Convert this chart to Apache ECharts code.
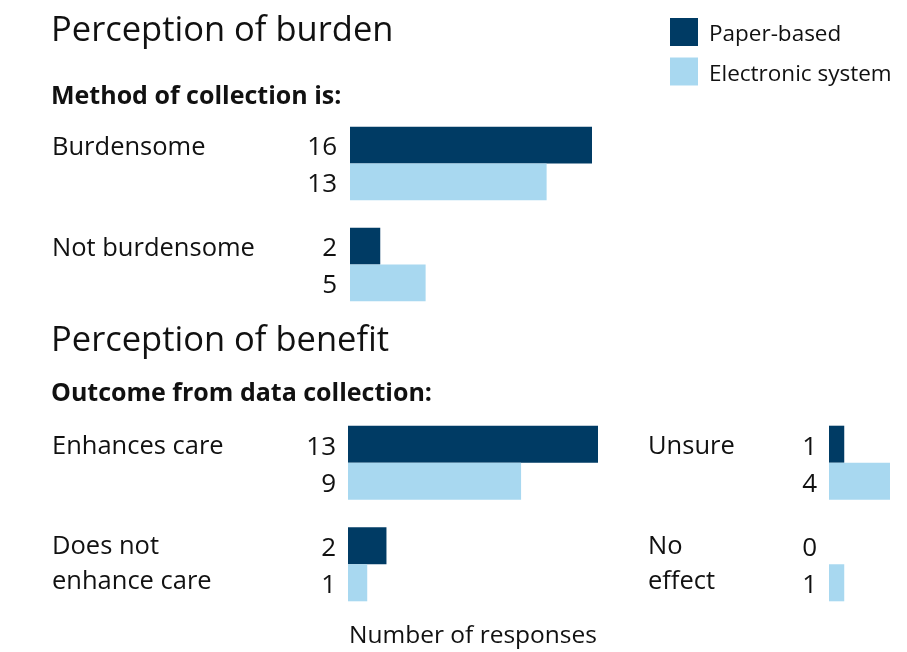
<!DOCTYPE html>
<html><head><meta charset="utf-8">
<script src="https://cdn.jsdelivr.net/npm/echarts@6/dist/echarts.min.js"></script>
<style>html,body{margin:0;padding:0;background:#fff}#c{width:907px;height:652px}</style>
</head><body><div id="c"></div>
<script>
const seriesNames = ['Paper-based', 'Electronic system'];
const burdenCats = ['Burdensome', 'Not burdensome'];
const burdenPaper = [16, 2];
const burdenElectronic = [13, 5];
const benefitCatsA = ['Enhances care', 'Does not\nenhance care'];
const benefitPaperA = [13, 2];
const benefitElectronicA = [9, 1];
const benefitCatsB = ['Unsure', 'No\neffect'];
const benefitPaperB = [1, 0];
const benefitElectronicB = [4, 1];

const FONT = 'Open Sans';
const DARK = '#003b64';
const LIGHT = '#a8d8f0';
const TXT = '#111';
const chart = echarts.init(document.getElementById('c'));

function catAxis(idx, cats, margin) {
  return {
    type: 'category', gridIndex: idx, data: cats, inverse: true,
    axisLine: {show: false}, axisTick: {show: false}, splitLine: {show: false},
    axisLabel: {
      align: 'left', margin: margin, color: TXT, fontFamily: FONT, fontSize: 25.5, lineHeight: 35,
      formatter: v => v.indexOf('\n') >= 0 ? v : v + '\n{s| }',
      rich: {s: {fontSize: 10, lineHeight: 32}}
    }
  };
}
function valAxis(idx, max, extra) {
  return Object.assign({
    type: 'value', gridIndex: idx, min: 0, max: max,
    axisLine: {show: false}, axisTick: {show: false}, splitLine: {show: false}, axisLabel: {show: false}
  }, extra || {});
}
function bar(name, idx, data, color, dist) {
  return {
    name: name, type: 'bar', xAxisIndex: idx, yAxisIndex: idx, data: data,
    barGap: '0%', barCategoryGap: '27%', itemStyle: {color: color},
    label: {show: true, position: 'left', distance: dist, offset: [0, 3], color: TXT, fontFamily: FONT, fontSize: 26},
    silent: true, animation: false
  };
}

chart.setOption({
  animation: false,
  textStyle: {fontFamily: FONT},
  title: [
    {text: 'Perception of burden', left: 51, top: 14, padding: 0, textStyle: {fontFamily: FONT, fontSize: 34.5, fontWeight: 'normal', color: TXT}},
    {text: 'Method of collection is:', left: 51, top: 84, padding: 0, textStyle: {fontFamily: FONT, fontSize: 25, fontWeight: 'bold', color: TXT}},
    {text: 'Perception of benefit', left: 51, top: 324, padding: 0, textStyle: {fontFamily: FONT, fontSize: 34.5, fontWeight: 'normal', color: TXT}},
    {text: 'Outcome from data collection:', left: 51, top: 381, padding: 0, textStyle: {fontFamily: FONT, fontSize: 25, fontWeight: 'bold', color: TXT}}
  ],
  legend: {
    orient: 'vertical', left: 670, top: 18, padding: 0, itemWidth: 28, itemHeight: 28, itemGap: 11,
    icon: 'rect', data: seriesNames,
    formatter: n => '{a|' + n + '}',
    textStyle: {fontFamily: FONT, fontSize: 22.5, color: TXT, padding: [0, 0, 0, 6],
      rich: {a: {fontFamily: FONT, fontSize: 22.5, color: TXT, padding: [6, 0, 0, 0]}}}
  },
  grid: [
    {left: 350, top: 113, width: 242, height: 202, outerBoundsMode: 'none'},
    {left: 348, top: 412, width: 250, height: 203, outerBoundsMode: 'none'},
    {left: 829, top: 412, width: 61, height: 203, outerBoundsMode: 'none'}
  ],
  xAxis: [
    valAxis(0, 16),
    valAxis(1, 13, {name: 'Number of responses', nameLocation: 'middle', nameGap: 9,
      nameTextStyle: {fontFamily: FONT, fontSize: 24.5, color: TXT}}),
    valAxis(2, 4)
  ],
  yAxis: [
    catAxis(0, burdenCats, 298),
    catAxis(1, benefitCatsA, 296),
    catAxis(2, benefitCatsB, 181)
  ],
  series: [
    bar(seriesNames[0], 0, burdenPaper, DARK, 13),
    bar(seriesNames[1], 0, burdenElectronic, LIGHT, 13),
    bar(seriesNames[0], 1, benefitPaperA, DARK, 12),
    bar(seriesNames[1], 1, benefitElectronicA, LIGHT, 12),
    bar(seriesNames[0], 2, benefitPaperB, DARK, 12),
    bar(seriesNames[1], 2, benefitElectronicB, LIGHT, 12)
  ]
});
</script></body></html>
